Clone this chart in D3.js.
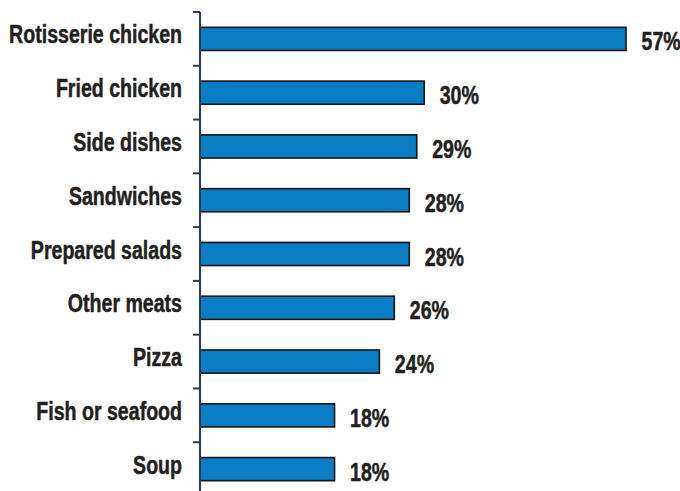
<!DOCTYPE html>
<html>
<head>
<meta charset="utf-8">
<script src="https://cdn.jsdelivr.net/npm/d3@7"></script>
<style>
  html, body { margin: 0; padding: 0; background: #fff; }
  svg { display: block; }
  .lbl { font-family: "Liberation Sans", Arial, sans-serif; font-weight: bold; fill: #231f20;
         stroke: #231f20; stroke-width: 0.5; }
</style>
</head>
<body>
<svg id="chart" width="680" height="491"></svg>
<script>
// Share of respondents by prepared-food item
const categories = ["Rotisserie chicken", "Fried chicken", "Side dishes", "Sandwiches",
                    "Prepared salads", "Other meats", "Pizza", "Fish or seafood", "Soup"];
const values = [57, 30, 29, 28, 28, 26, 24, 18, 18];

const W = 680, H = 491;
const axisX = 200;
const fontSize = 25;
const svg = d3.select("#chart");

const x = d3.scaleLinear().domain([0, 57]).range([axisX, 626]);
const y = d3.scaleBand().domain(categories).range([12, 496])
  .paddingInner(0.57).paddingOuter(0.285);

const rows = categories.map((c, i) => ({ cat: c, val: values[i] }));

// bars
svg.append("g").selectAll("rect").data(rows).join("rect")
  .attr("x", x(0))
  .attr("y", d => y(d.cat))
  .attr("width", d => x(d.val) - x(0))
  .attr("height", y.bandwidth())
  .attr("fill", "#0a7cc4")
  .attr("stroke", "#141414")
  .attr("stroke-width", 1.6);

// vertical axis with ticks at the band boundaries
const ax = svg.append("g");
ax.append("line")
  .attr("x1", axisX).attr("x2", axisX)
  .attr("y1", y.range()[0]).attr("y2", H)
  .attr("stroke", "#2a3a56").attr("stroke-width", 2);
ax.selectAll("line.tick").data(d3.range(categories.length)).join("line")
  .attr("class", "tick")
  .attr("x1", axisX - 7).attr("x2", axisX)
  .attr("y1", i => y.range()[0] + i * y.step())
  .attr("y2", i => y.range()[0] + i * y.step())
  .attr("stroke", "#2a3a56").attr("stroke-width", 2);

// condensed look: squeeze the bold face horizontally so the longest label spans 173px
const probe = svg.append("text").attr("class", "lbl").attr("font-size", fontSize).text(categories[0]);
const squeeze = 173 / probe.node().getComputedTextLength();
probe.remove();

// category labels
svg.append("g").selectAll("text").data(rows).join("text")
  .attr("class", "lbl")
  .attr("font-size", fontSize)
  .attr("text-anchor", "end")
  .attr("transform", d => `translate(182,${y(d.cat) + y.bandwidth() / 2 + 4.5}) scale(${squeeze},1)`)
  .text(d => d.cat);

// value labels
svg.append("g").selectAll("text").data(rows).join("text")
  .attr("class", "lbl")
  .attr("font-size", fontSize)
  .attr("transform", d => `translate(${x(d.val) + 15.5},${y(d.cat) + y.bandwidth() / 2 + 11.5}) scale(${squeeze},1)`)
  .text(d => d.val + "%");
</script>
</body>
</html>
